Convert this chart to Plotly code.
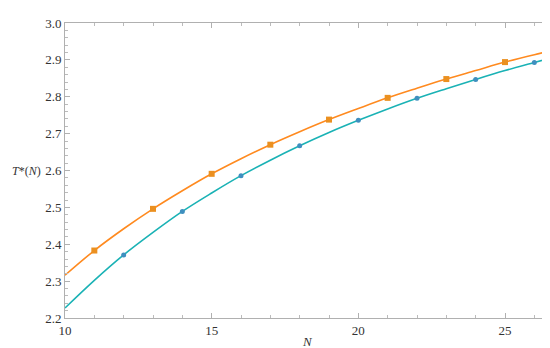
import plotly.graph_objects as go

# curve values
n_curve = [10, 11, 12, 13, 14, 15, 16, 17, 18, 19, 20, 21, 22, 23, 24, 25, 26, 26.5]
orange_curve = [2.316, 2.383, 2.442, 2.496, 2.545, 2.591, 2.632, 2.670, 2.705, 2.738,
                2.768, 2.797, 2.823, 2.848, 2.871, 2.894, 2.914, 2.923]
teal_curve = [2.227, 2.302, 2.371, 2.432, 2.489, 2.539, 2.586, 2.628, 2.667, 2.703,
              2.736, 2.767, 2.796, 2.822, 2.847, 2.871, 2.893, 2.904]

# data points
n_odd = [11, 13, 15, 17, 19, 21, 23, 25]
t_odd = [2.383, 2.496, 2.591, 2.670, 2.738, 2.797, 2.848, 2.894]
n_even = [12, 14, 16, 18, 20, 22, 24, 26]
t_even = [2.371, 2.489, 2.586, 2.667, 2.736, 2.796, 2.847, 2.893]

SERIF = "Times New Roman"

fig = go.Figure()

fig.add_trace(go.Scatter(x=n_curve, y=orange_curve, mode="lines", line_shape="spline",
                         line=dict(color="#ff8a1f", width=1.6)))
fig.add_trace(go.Scatter(x=n_curve, y=teal_curve, mode="lines", line_shape="spline",
                         line=dict(color="#1ab2b5", width=1.6)))
fig.add_trace(go.Scatter(x=n_odd, y=t_odd, mode="markers",
                         marker=dict(symbol="square", size=6, color="#eb9020")))
fig.add_trace(go.Scatter(x=n_even, y=t_even, mode="markers",
                         marker=dict(symbol="circle", size=5, color="#3f8fbf")))

axis_common = dict(
    showgrid=False, zeroline=False, showline=True, linecolor="#b0b0b0", linewidth=1,
    mirror="ticks", ticks="inside", tickcolor="#b0b0b0", ticklen=5,
    tickfont=dict(family=SERIF, size=13, color="#333333"),
)

fig.update_xaxes(range=[10, 26.5], tick0=10, dtick=5, **axis_common,
                 minor=dict(ticks="inside", dtick=1, ticklen=3, tickcolor="#bbbbbb"))
fig.update_yaxes(range=[2.2, 3.0], tick0=2.2, dtick=0.1, tickformat=".1f", **axis_common,
                 minor=dict(ticks="inside", dtick=0.02, ticklen=3, tickcolor="#bbbbbb"))

fig.add_annotation(text="<i>T</i>*(<i>N</i>)", xref="paper", yref="y", x=-57 / 485, y=2.6,
                   xanchor="left", xshift=2, showarrow=False,
                   font=dict(family=SERIF, size=12, color="#333333"))
fig.add_annotation(text="<i>N</i>", xref="paper", yref="paper", x=0.5, y=-0.08,
                   yanchor="middle", showarrow=False,
                   font=dict(family=SERIF, size=13, color="#333333"))

fig.update_layout(
    width=550, height=348, showlegend=False,
    font=dict(family=SERIF),
    plot_bgcolor="white", paper_bgcolor="white",
    margin=dict(l=57, r=8, t=11, b=38),
)

fig.write_html("out.html")
